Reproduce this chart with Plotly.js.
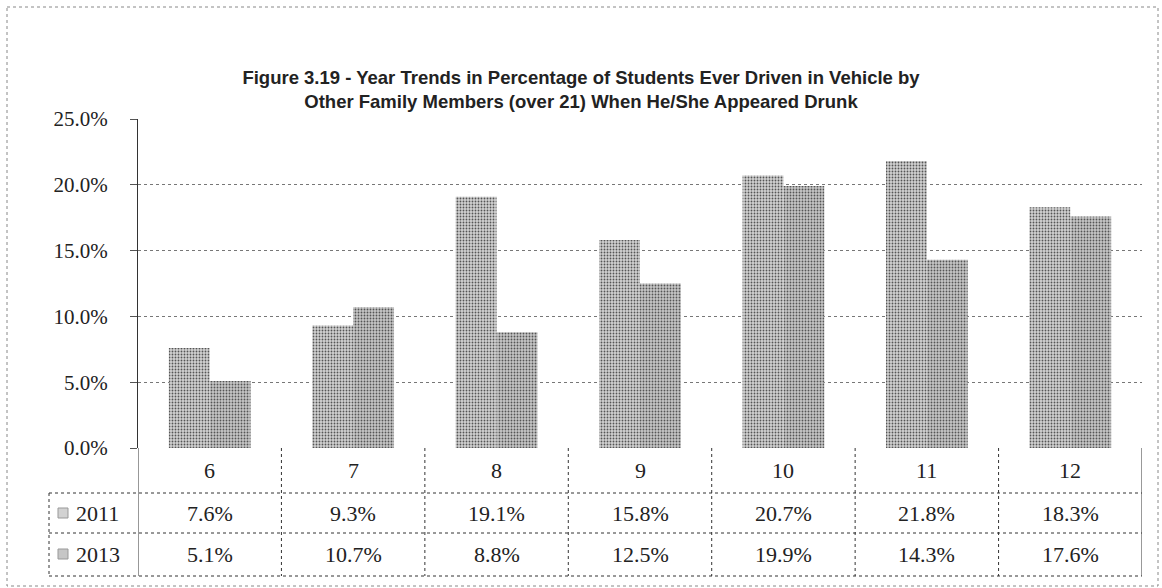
<!DOCTYPE html>
<html>
<head>
<meta charset="utf-8">
<script src="https://cdn.plot.ly/plotly-3.0.1.min.js"></script>
<style>html,body{margin:0;padding:0;background:#fff}#chart{width:1162px;height:588px}</style>
</head>
<body>
<div id="chart"></div>
<script>
var categories = ['6', '7', '8', '9', '10', '11', '12'];
var seriesNames = ['2011', '2013'];
var values2011 = [0.076, 0.093, 0.191, 0.158, 0.207, 0.218, 0.183];
var values2013 = [0.051, 0.107, 0.088, 0.125, 0.199, 0.143, 0.176];
var yTicks = [0, 0.05, 0.10, 0.15, 0.20, 0.25];

var plotTop = 119, plotBottom = 448, plotLeft = 138, plotRight = 1142;
var ph = plotBottom - plotTop, pw = plotRight - plotLeft;
function py(p) { return (plotBottom - p) / ph; }
function px(p) { return (p - plotLeft) / pw; }

var serif = 'Liberation Serif, DejaVu Serif, serif';
var bgCols = ['#d2d2d2', '#c6c6c6'];

var traces = [values2011, values2013].map(function (vals, i) {
  return {
    type: 'bar', name: seriesNames[i], x: categories, y: vals,
    marker: {
      color: bgCols[i],
      line: {width: 0},
      pattern: {shape: '.', fgcolor: '#555', bgcolor: bgCols[i], size: 3, solidity: 0.3}
    },
    hoverinfo: 'x+y'
  };
});

var rowLines = [493, 533, 576];
var shapes = [];
rowLines.forEach(function (r) {
  shapes.push({type: 'line', xref: 'paper', yref: 'paper', x0: px(49), x1: 1, y0: py(r), y1: py(r),
    line: {color: '#333', width: 1, dash: 'dot'}});
});
for (var k = 0; k <= categories.length; k++) {
  shapes.push({type: 'line', xref: 'x', yref: 'paper', x0: k - 0.5, x1: k - 0.5, y0: 0, y1: py(576),
    line: {color: '#333', width: 1, dash: k === 0 || k === categories.length ? 'solid' : 'dot'}});
}
shapes.push({type: 'line', xref: 'paper', yref: 'paper', x0: px(49), x1: px(49), y0: py(493), y1: py(576),
  line: {color: '#333', width: 1, dash: 'dot'}});
shapes.push({type: 'rect', xref: 'paper', yref: 'paper', x0: px(7), x1: px(1158), y0: py(7), y1: py(586),
  line: {color: '#888', width: 1, dash: 'dot'}});
[513, 554].forEach(function (c, i) {
  shapes.push({type: 'rect', xref: 'paper', yref: 'paper', x0: px(58), x1: px(68), y0: py(c - 5), y1: py(c + 5),
    fillcolor: bgCols[i], line: {color: '#999', width: 1}});
});

var annotations = [];
categories.forEach(function (c, i) {
  annotations.push({xref: 'x', yref: 'paper', x: i, y: py(470), text: c, showarrow: false,
    font: {family: serif, size: 22, color: '#222'}, yanchor: 'middle'});
  annotations.push({xref: 'x', yref: 'paper', x: i, y: py(513), text: (values2011[i] * 100).toFixed(1) + '%', showarrow: false,
    font: {family: serif, size: 22, color: '#222'}, yanchor: 'middle'});
  annotations.push({xref: 'x', yref: 'paper', x: i, y: py(554), text: (values2013[i] * 100).toFixed(1) + '%', showarrow: false,
    font: {family: serif, size: 22, color: '#222'}, yanchor: 'middle'});
});
seriesNames.forEach(function (s, i) {
  annotations.push({xref: 'paper', yref: 'paper', x: px(74), y: py(i === 0 ? 513 : 554), text: s, showarrow: false,
    xanchor: 'left', yanchor: 'middle', font: {family: serif, size: 22, color: '#222'}});
});

var layout = {
  width: 1162, height: 588,
  margin: {l: plotLeft, r: 1162 - plotRight, t: plotTop, b: 588 - plotBottom, pad: 0},
  paper_bgcolor: '#fff', plot_bgcolor: '#fff',
  title: {
    text: '<b>Figure 3.19 - Year Trends in Percentage of Students Ever Driven in Vehicle by<br>Other Family Members (over 21) When He/She Appeared Drunk</b>',
    font: {family: 'Liberation Sans, Arial, sans-serif', size: 18.5, color: '#222'},
    xref: 'container', x: 0.5, xanchor: 'center', yref: 'container', y: 1 - 84 / 588, yanchor: 'middle'
  },
  barmode: 'group', bargap: 0.43, bargroupgap: 0,
  showlegend: false,
  xaxis: {type: 'category', range: [-0.5, categories.length - 0.5], showticklabels: false, showgrid: false, zeroline: false, showline: false, ticks: ''},
  yaxis: {
    range: [0, 0.25], tickvals: yTicks, tickformat: '.1%',
    tickfont: {family: serif, size: 21, color: '#222'},
    showgrid: true, gridcolor: '#777', griddash: 'dot', gridwidth: 1,
    zeroline: false, showline: true, linecolor: '#333', linewidth: 1,
    ticks: 'outside', ticklen: 7, tickcolor: '#555', ticklabelstandoff: 18
  },
  shapes: shapes, annotations: annotations
};

Plotly.newPlot('chart', traces, layout, {displayModeBar: false, staticPlot: true});
</script>
</body>
</html>
